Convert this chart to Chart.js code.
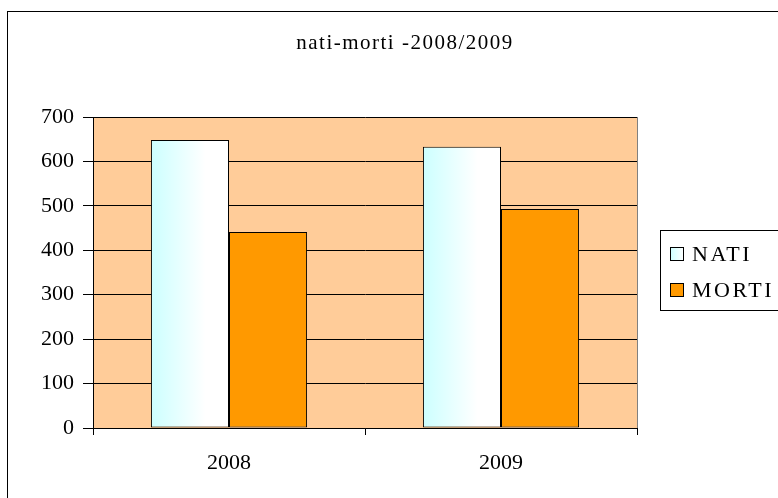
<!DOCTYPE html>
<html>
<head>
<meta charset="utf-8">
<script src="https://cdn.jsdelivr.net/npm/chart.js@4"></script>
<style>
  html, body { margin: 0; padding: 0; background: #fff; }
  #wrap { width: 778px; height: 498px; position: relative; }
</style>
</head>
<body>
<div id="wrap"><canvas id="c" width="778" height="498"></canvas></div>
<script>
const years = ['2008', '2009'];
const nati = [648, 633];
const morti = [441, 493];
const seriesNames = ['NATI', 'MORTI'];
const chartTitle = 'nati-morti -2008/2009';

const SERIF = '"Liberation Serif", "DejaVu Serif", serif';
const CAT_PCT = 0.574;

// light cyan to white gradient across each NATI bar
function natiFill(ctx) {
  const chart = ctx.chart;
  const xs = chart.scales.x;
  if (!xs || !chart.chartArea || ctx.dataIndex === undefined) return '#CCFFFF';
  const center = xs.getPixelForValue(ctx.dataIndex);
  const half = xs.width / years.length * CAT_PCT / 2;
  const g = chart.ctx.createLinearGradient(center - half, 0, center, 0);
  g.addColorStop(0, '#CCFFFF');
  g.addColorStop(0.7, '#FFFFFF');
  g.addColorStop(1, '#FFFFFF');
  return g;
}

function spaced(ctx, px) {
  if ('letterSpacing' in ctx) ctx.letterSpacing = px + 'px';
}

const framePlugin = {
  id: 'frame',
  beforeDraw(chart) {
    const { ctx, chartArea: a } = chart;
    ctx.save();
    ctx.fillStyle = '#fff';
    ctx.fillRect(0, 0, chart.width, chart.height);
    // outer frame, runs off the right and bottom edges
    ctx.strokeStyle = '#000';
    ctx.lineWidth = 1;
    ctx.strokeRect(7.5, 11.5, 800, 520);
    ctx.fillStyle = '#FFCC99';
    ctx.fillRect(a.left, a.top, a.right - a.left, a.bottom - a.top);
    ctx.restore();
  },
  afterDraw(chart) {
    const { ctx, chartArea: a } = chart;
    ctx.save();
    ctx.strokeStyle = '#808080';
    ctx.lineWidth = 1;
    ctx.beginPath();
    ctx.moveTo(Math.round(a.right) + 0.5, a.top);
    ctx.lineTo(Math.round(a.right) + 0.5, a.bottom);
    ctx.stroke();

    // title
    ctx.fillStyle = '#000';
    ctx.font = '21px ' + SERIF;
    ctx.textAlign = 'center';
    ctx.textBaseline = 'middle';
    spaced(ctx, 1.5);
    ctx.fillText(chartTitle, 405, 43);
    spaced(ctx, 0);

    // legend box
    ctx.strokeStyle = '#000';
    ctx.strokeRect(660.5, 230.5, 140, 80);
    const swatches = ['#CCFFFF', '#FF9900'];
    const rows = [254, 290];
    ctx.font = '22px ' + SERIF;
    ctx.textAlign = 'left';
    chart.data.datasets.forEach((ds, i) => {
      const y = rows[i];
      const g = ctx.createLinearGradient(670, 0, 684, 0);
      if (i === 0) { g.addColorStop(0, '#CCFFFF'); g.addColorStop(1, '#FFFFFF'); }
      ctx.fillStyle = i === 0 ? g : swatches[i];
      ctx.fillRect(670, y - 6, 13, 13);
      ctx.strokeStyle = '#000';
      ctx.strokeRect(670.5, y - 6.5, 13, 13);
      ctx.fillStyle = '#000';
      spaced(ctx, 2.5);
      ctx.fillText(ds.label, 692, y + 1);
      spaced(ctx, 0);
    });
    ctx.restore();
  }
};

new Chart(document.getElementById('c'), {
  type: 'bar',
  data: {
    labels: years,
    datasets: [
      {
        label: seriesNames[0],
        data: nati,
        backgroundColor: natiFill,
        borderColor: '#000',
        borderWidth: 1,
        borderSkipped: false
      },
      {
        label: seriesNames[1],
        data: morti,
        backgroundColor: '#FF9900',
        borderColor: '#000',
        borderWidth: 1,
        borderSkipped: false
      }
    ]
  },
  options: {
    responsive: false,
    animation: false,
    devicePixelRatio: 1,
    layout: { padding: { left: 0, right: 141, top: 117, bottom: 0 } },
    datasets: { bar: { barPercentage: 1, categoryPercentage: CAT_PCT } },
    plugins: {
      legend: { display: false },
      title: { display: false },
      tooltip: { enabled: false }
    },
    scales: {
      x: {
        afterFit(s) { s.height = 70; },
        grid: { offset: true, drawOnChartArea: false, drawTicks: true, tickLength: 7, color: '#000' },
        border: { color: '#000' },
        ticks: { color: '#000', padding: 15, font: { family: SERIF, size: 22 } }
      },
      y: {
        min: 0,
        max: 700,
        afterFit(s) { s.width = 93; },
        grid: { color: '#000', tickLength: 10, drawTicks: true },
        border: { color: '#000' },
        ticks: { stepSize: 100, color: '#000', padding: 9, font: { family: SERIF, size: 22 } }
      }
    }
  },
  plugins: [framePlugin]
});
</script>
</body>
</html>
